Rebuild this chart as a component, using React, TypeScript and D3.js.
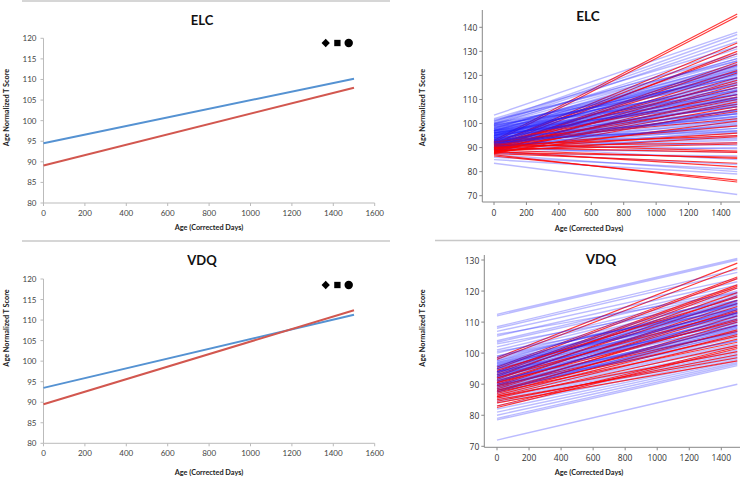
import React from 'react';
import * as d3 from 'd3';

// days at which every fitted line is evaluated
const lineDays = [0, 1500];

// group mean trajectories (value at day 0, value at day 1500)
const elcMeanBlue = [94.5, 110.2];
const elcMeanRed = [89.1, 108.0];
const vdqMeanBlue = [93.5, 111.3];
const vdqMeanRed = [89.5, 112.4];

const leftXTicks = [0, 200, 400, 600, 800, 1000, 1200, 1400, 1600];
const leftYTicks = [80, 85, 90, 95, 100, 105, 110, 115, 120];
const rightXTicks = [0, 200, 400, 600, 800, 1000, 1200, 1400];
const elcYTicks = [70, 80, 90, 100, 110, 120, 130, 140];
const vdqYTicks = [70, 80, 90, 100, 110, 120, 130];

// individual trajectories [day 0, day 1500]
const elcBlue = [
  [103.5, 138], [101, 137], [100.5, 135.5], [100, 134], [99.5, 131], [101, 128], [98, 126],
  [99, 124.5], [97, 123], [96.5, 122], [98.5, 121.5], [95, 121], [97.5, 120], [96, 119],
  [94, 118], [99, 117.5], [95.5, 116], [93, 115], [96, 114], [94.5, 113], [92.5, 112],
  [97, 111], [93.5, 110], [95, 109], [91.5, 108], [94, 107], [92, 106], [96.5, 105],
  [90.5, 104], [93, 103], [91, 102], [95.5, 101], [89.5, 100], [92, 99], [90, 98], [94, 97],
  [91, 96], [88.5, 95], [93, 94], [90, 93], [89, 92], [92.5, 91], [88, 90], [91, 89.5],
  [89.5, 88], [87.5, 86.5], [90.5, 85], [88, 83], [86, 81], [87, 80], [85, 79], [83.5, 70.5],
  [102, 132], [100, 129], [97, 125], [98, 127], [95, 120.5], [96, 117], [93, 113.5],
  [100, 119], [101.5, 126], [99, 122.5], [94, 110.5], [97, 108], [92, 104], [89, 97],
  [91, 93.5], [93.5, 96.5], [96, 104], [98.5, 112], [95, 124], [93, 118.5], [97, 116],
  [94.5, 121.5], [92, 109.5], [99.5, 114.5], [90, 101.5], [96, 110], [91.5, 105.5],
  [97.5, 123.5], [96.5, 120.5], [95.5, 119.5], [94, 116.5], [98, 119], [97, 121.5],
  [95, 115], [93.5, 112.5], [96, 112], [94.5, 111], [92.5, 107.5], [95.5, 107], [93, 105.5],
  [91.5, 103], [94, 102.5], [92, 100.5], [90.5, 99.5], [93, 98], [98.5, 124], [99.5, 127],
  [96, 122.5], [94.5, 114], [97.5, 113.5], [95, 110.5], [92.5, 108.5], [91, 104.5],
];
const elcRed = [
  [93, 145.5], [92.3, 144.5], [91.5, 133.5], [91, 132], [90.5, 130], [92, 129], [90, 125.5],
  [89.5, 124.5], [91, 122], [89, 121], [90.5, 119], [88.5, 118], [91.5, 117], [89, 116],
  [90, 115], [88, 113.5], [92, 112], [89.5, 111], [90.5, 110], [88.5, 109], [91, 108],
  [89, 107], [87.5, 106], [90, 105], [92.5, 102], [88, 101], [90, 99], [89.5, 96], [91, 95],
  [88.5, 94.5], [90.5, 92], [89, 91.5], [91.5, 88.5], [90, 88], [88, 86], [89, 85.5],
  [87.5, 83.5], [88.5, 82], [86.5, 76.5], [87, 75.7],
];
const vdqBlue = [
  [112.5, 130.5], [112, 130], [108.5, 127], [108, 126], [107, 124], [105.5, 123], [104, 122],
  [103.5, 121], [102, 120], [101, 119.5], [100, 119], [99, 118], [98, 117], [97, 116.5],
  [96.5, 116], [96, 115], [95.5, 114.5], [95, 114], [94.5, 113], [94, 112.5], [93.5, 112],
  [93, 111], [92.5, 110.5], [92, 110], [91.5, 109], [91, 108], [90.5, 107.5], [90, 107],
  [89.5, 106], [89, 105.5], [88.5, 105], [88, 104], [87.5, 103], [87, 102.5], [86.5, 102],
  [86, 101], [85.5, 100.5], [85, 100], [84.5, 99.5], [84, 99], [83, 98.5], [82, 98],
  [81, 97.5], [80, 97], [79, 96.5], [78.5, 96], [72, 90], [97.5, 118.5], [95, 112],
  [93, 113], [91, 111.5], [89, 108.5], [96, 113.5], [99, 115.5], [94, 109.5], [90, 104],
  [88, 106.5], [103, 117], [106, 119.5], [100.5, 114], [95.5, 117], [92.5, 114.5],
  [90.5, 112], [87.5, 108], [94, 115.5], [97, 113], [96, 118], [94.5, 116.5], [93.5, 114],
  [92, 113], [95, 116], [97.5, 114.5], [91, 110.5], [89.5, 109], [93, 110], [90, 108.5],
  [88.5, 107], [96.5, 112.5], [98.5, 116], [94, 111], [92.5, 109], [91.5, 106.5],
];
const vdqRed = [
  [98.5, 129], [98, 127.5], [95.5, 124.5], [95, 124], [94, 122], [93.5, 121.5], [92.5, 121],
  [93, 119.5], [91.5, 118.5], [92, 117], [90.5, 116], [91, 115], [89.5, 114], [90, 113],
  [88.5, 112], [89, 111], [87.5, 110], [88, 109], [87, 107.5], [89.5, 107], [86.5, 106],
  [88, 105.5], [86, 104.5], [87.5, 103.5], [85.5, 102.5], [83, 102], [82.5, 101.5],
  [86, 100.5], [84.5, 99.5], [85, 98.5], [84, 97.5], [90.5, 110.5], [92, 113.5], [94.5, 118],
];

const BLUE = '#5592d2';
const RED = '#d2574f';
const boldFont = 'Lato, sans-serif';

type LeftProps = {
  top: number; title: string; blue: number[]; red: number[];
  titleY: number; markY: number; xTitleY: number; yTitleY: number; yBottom: number; yTop: number;
};

const MeanPanel = ({ top, title, blue, red, titleY, markY, xTitleY, yTitleY, yBottom, yTop }: LeftProps) => {
  const x = d3.scaleLinear().domain([0, 1600]).range([43.5, 374.7]);
  const y = d3.scaleLinear().domain([80, 120]).range([yBottom, yTop]);
  const line = d3.line<number>().x((_, i) => x(lineDays[i])).y((d) => y(d));
  const mx = x(1600) - 49;
  return (
    <g transform={`translate(0,${top})`}>
      <line x1={22} x2={390} y1={1} y2={1} stroke="#c8c8c8" strokeWidth={1.5} />
      <text x={202} y={titleY} textAnchor="middle" dominantBaseline="central"
        fontFamily={boldFont} fontWeight="bold" fontSize={13} fill="#111">{title}</text>
      <line x1={x(0)} x2={x(0)} y1={y(120)} y2={y(80)} stroke="#bbb" />
      <line x1={x(0)} x2={x(1600)} y1={y(80)} y2={y(80)} stroke="#bbb" />
      {leftYTicks.map((t) => (
        <g key={t}>
          <line x1={x(0) - 3} x2={x(0)} y1={y(t)} y2={y(t)} stroke="#bbb" />
          <text x={x(0) - 7} y={y(t)} textAnchor="end" dominantBaseline="central"
            fontFamily={boldFont} fontSize={8} fill="#444">{t}</text>
        </g>
      ))}
      {leftXTicks.map((t) => (
        <g key={t}>
          <line x1={x(t)} x2={x(t)} y1={y(80)} y2={y(80) + 3} stroke="#bbb" />
          <text x={x(t)} y={y(80) + 9.5} textAnchor="middle" dominantBaseline="central"
            fontFamily={boldFont} fontSize={8} fill="#444">{t}</text>
        </g>
      ))}
      <text x={209} y={xTitleY} textAnchor="middle" dominantBaseline="central"
        fontFamily={boldFont} fontWeight="bold" fontSize={7.3} fill="#222">Age (Corrected Days)</text>
      <text transform={`translate(6,${yTitleY}) rotate(-90)`} textAnchor="middle" dominantBaseline="central"
        fontFamily={boldFont} fontWeight="bold" fontSize={7.3} fill="#222">Age Normalized T Score</text>
      <path d={line(blue) || ''} fill="none" stroke={BLUE} strokeWidth={2} />
      <path d={line(red) || ''} fill="none" stroke={RED} strokeWidth={2} />
      <path d={d3.symbol(d3.symbolDiamond2, 44)() || ''} transform={`translate(${mx},${markY})`} fill="#000" />
      <path d={d3.symbol(d3.symbolSquare, 40)() || ''} transform={`translate(${mx + 11.7},${markY})`} fill="#000" />
      <path d={d3.symbol(d3.symbolCircle, 56)() || ''} transform={`translate(${mx + 23},${markY})`} fill="#000" />
    </g>
  );
};

type RightProps = {
  title: string; blue: number[][]; red: number[][]; yTicks: number[];
  axisX: number; axisTop: number; axisBottom: number;
  x0: number; x1400: number; yLo: number; yHi: number; yLoPx: number; yHiPx: number;
  titleX: number; titleY: number; xTitleY: number; yTitleY: number; topRule: number | null;
};

const SpaghettiPanel = (p: RightProps) => {
  const x = d3.scaleLinear().domain([0, 1400]).range([p.x0, p.x1400]);
  const y = d3.scaleLinear().domain([p.yLo, p.yHi]).range([p.yLoPx, p.yHiPx]);
  const line = d3.line<number>().x((_, i) => x(lineDays[i])).y((d) => y(d));
  const tickFont = '"Open Sans", sans-serif';
  // interleave the two groups so translucent blue lines partly cover the red ones
  const lines = [
    ...p.blue.map((d, i) => ({ d, red: false, k: i / p.blue.length })),
    ...p.red.map((d, i) => ({ d, red: true, k: (i + 0.5) / p.red.length })),
  ].sort((a, b) => a.k - b.k);
  return (
    <g>
      {p.topRule !== null && (
        <line x1={435} x2={740} y1={p.topRule} y2={p.topRule} stroke="#c8c8c8" strokeWidth={1.5} />
      )}
      {lines.map((l, i) => (
        <path key={i} d={line(l.d) || ''} fill="none"
          stroke={l.red ? 'rgb(255,0,0)' : 'rgb(30,30,255)'}
          strokeOpacity={l.red ? 0.78 : 0.3} strokeWidth={l.red ? 1.15 : 1.4} />
      ))}
      <line x1={p.axisX} x2={p.axisX} y1={p.axisTop} y2={p.axisBottom} stroke="#888" />
      <line x1={p.axisX} x2={740} y1={p.axisBottom} y2={p.axisBottom} stroke="#888" />
      {p.yTicks.map((t) => (
        <g key={t}>
          <line x1={p.axisX - 3} x2={p.axisX} y1={y(t)} y2={y(t)} stroke="#888" />
          <text x={p.axisX - 5} y={y(t)} textAnchor="end" dominantBaseline="central"
            fontFamily={tickFont} fontSize={8.5} fill="#333">{t}</text>
        </g>
      ))}
      {rightXTicks.map((t) => (
        <g key={t}>
          <line x1={x(t)} x2={x(t)} y1={p.axisBottom} y2={p.axisBottom + 3} stroke="#888" />
          <text x={x(t)} y={p.axisBottom + 10} textAnchor="middle" dominantBaseline="central"
            fontFamily={tickFont} fontSize={8.5} fill="#333">{t}</text>
        </g>
      ))}
      <text x={p.titleX} y={p.titleY} textAnchor="middle" dominantBaseline="central"
        fontFamily={boldFont} fontWeight="bold" fontSize={13.5} fill="#111">{p.title}</text>
      <text x={589} y={p.xTitleY} textAnchor="middle" dominantBaseline="central"
        fontFamily={boldFont} fontWeight="bold" fontSize={7.3} fill="#222">Age (Corrected Days)</text>
      <text transform={`translate(422,${p.yTitleY}) rotate(-90)`} textAnchor="middle" dominantBaseline="central"
        fontFamily={boldFont} fontWeight="bold" fontSize={7.3} fill="#222">Age Normalized T Score</text>
    </g>
  );
};

export default function App() {
  return (
    <div style={{ position: 'fixed', left: 0, top: 0, width: 740, height: 484, background: '#fff' }}>
      <svg width={740} height={484} style={{ display: 'block' }}>
        <rect width={740} height={484} fill="#fff" />
        <MeanPanel top={0} title="ELC" blue={elcMeanBlue} red={elcMeanRed}
          titleY={19.5} markY={43} xTitleY={227} yTitleY={107.5} yBottom={203} yTop={38.3} />
        <MeanPanel top={240} title="VDQ" blue={vdqMeanBlue} red={vdqMeanRed}
          titleY={20} markY={45} xTitleY={232.3} yTitleY={88} yBottom={203.3} yTop={39} />
        <SpaghettiPanel title="ELC" blue={elcBlue} red={elcRed} yTicks={elcYTicks}
          axisX={482.3} axisTop={10} axisBottom={202} x0={494} x1400={721}
          yLo={70} yHi={140} yLoPx={195.7} yHiPx={27.3}
          titleX={588} titleY={16} xTitleY={228} yTitleY={107.5} topRule={null} />
        <SpaghettiPanel title="VDQ" blue={vdqBlue} red={vdqRed} yTicks={vdqYTicks}
          axisX={484.3} axisTop={255} axisBottom={447.3} x0={497} x1400={721.3}
          yLo={70} yHi={130} yLoPx={446.3} yHiPx={260}
          titleX={601} titleY={259} xTitleY={472.3} yTitleY={328} topRule={240.5} />
      </svg>
    </div>
  );
}
